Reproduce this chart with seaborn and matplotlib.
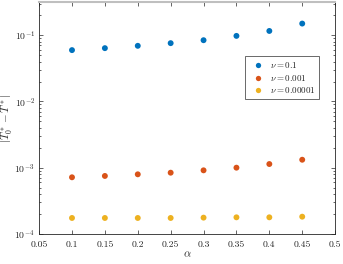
import matplotlib
matplotlib.use("Agg")
import matplotlib.pyplot as plt
import seaborn as sns
import pandas as pd
import numpy as np
from matplotlib.ticker import LogLocator, NullFormatter, MultipleLocator

alpha = [0.1, 0.15, 0.2, 0.25, 0.3, 0.35, 0.4, 0.45]
err_nu_01 = [0.0596, 0.0638, 0.0692, 0.0759, 0.0841, 0.0977, 0.116, 0.150]
err_nu_0001 = [7.16e-4, 7.5e-4, 7.94e-4, 8.4e-4, 9.12e-4, 1.0e-3, 1.135e-3, 1.318e-3]
err_nu_000001 = [1.74e-4, 1.74e-4, 1.74e-4, 1.74e-4, 1.76e-4, 1.78e-4, 1.78e-4, 1.82e-4]
labels = [r"$\nu = 0.1$", r"$\nu = 0.001$", r"$\nu = 0.00001$"]
colors = ["#0072BD", "#D95319", "#EDB120"]

df = pd.DataFrame({
    "alpha": alpha * 3,
    "err": err_nu_01 + err_nu_0001 + err_nu_000001,
    "series": [labels[0]] * 8 + [labels[1]] * 8 + [labels[2]] * 8,
})

sns.set_theme(style="ticks")
plt.rcParams["font.family"] = ["serif"]
plt.rcParams["font.serif"] = ["cmr10", "DejaVu Serif"]
plt.rcParams["mathtext.fontset"] = "cm"
plt.rcParams["axes.formatter.use_mathtext"] = True

fig = plt.figure(figsize=(3.43, 2.64), dpi=100)
ax = fig.add_axes([0.114, 0.114, 0.863, 0.878])
sns.scatterplot(data=df, x="alpha", y="err", hue="series", palette=colors,
                s=18, edgecolor="none", ax=ax)
ax.set_yscale("log")
ax.xaxis.set_major_locator(MultipleLocator(0.05))
ax.set_xlim(0.05, 0.5)
ax.set_xticks(np.round(np.arange(0.05, 0.501, 0.05), 2))
ax.set_xticklabels([f"{v:g}" for v in np.round(np.arange(0.05, 0.501, 0.05), 2)])
ax.yaxis.set_major_locator(LogLocator(base=10, numticks=10))
ax.yaxis.set_minor_locator(LogLocator(base=10, subs=np.arange(2, 10), numticks=20))
ax.yaxis.set_minor_formatter(NullFormatter())
ax.set_xlim(0.05, 0.5)
ax.set_ylim(1e-4, 10 ** -0.5)

ax.tick_params(which="both", direction="in", top=True, right=True,
               labelsize=7, colors="#262626", labelcolor="#262626", width=0.5)
ax.tick_params(which="major", length=3)
ax.tick_params(which="minor", length=1.6)
ax.tick_params(axis="x", pad=4.5)
ax.tick_params(axis="y", pad=3)
for s in ["left", "right", "bottom"]:
    ax.spines[s].set_color("#262626")
    ax.spines[s].set_linewidth(0.6)
ax.spines["top"].set_color("#bfbfbf")
ax.spines["top"].set_linewidth(1.5)

ax.set_xlabel(r"$\alpha$", fontsize=8, labelpad=1)
ax.set_ylabel(r"$|T_0^* - T^*|$", fontsize=8)
ax.yaxis.set_label_coords(-0.082, 0.5)

leg = ax.legend(loc="upper right", bbox_to_anchor=(0.96, 0.785), fontsize=6.5,
                frameon=True, fancybox=False, edgecolor="#262626",
                handletextpad=0.3, borderpad=0.4, labelspacing=0.3,
                markerscale=0.9)
leg.get_frame().set_linewidth(0.6)
leg.set_title(None)

fig.savefig("out.png", dpi=100)
